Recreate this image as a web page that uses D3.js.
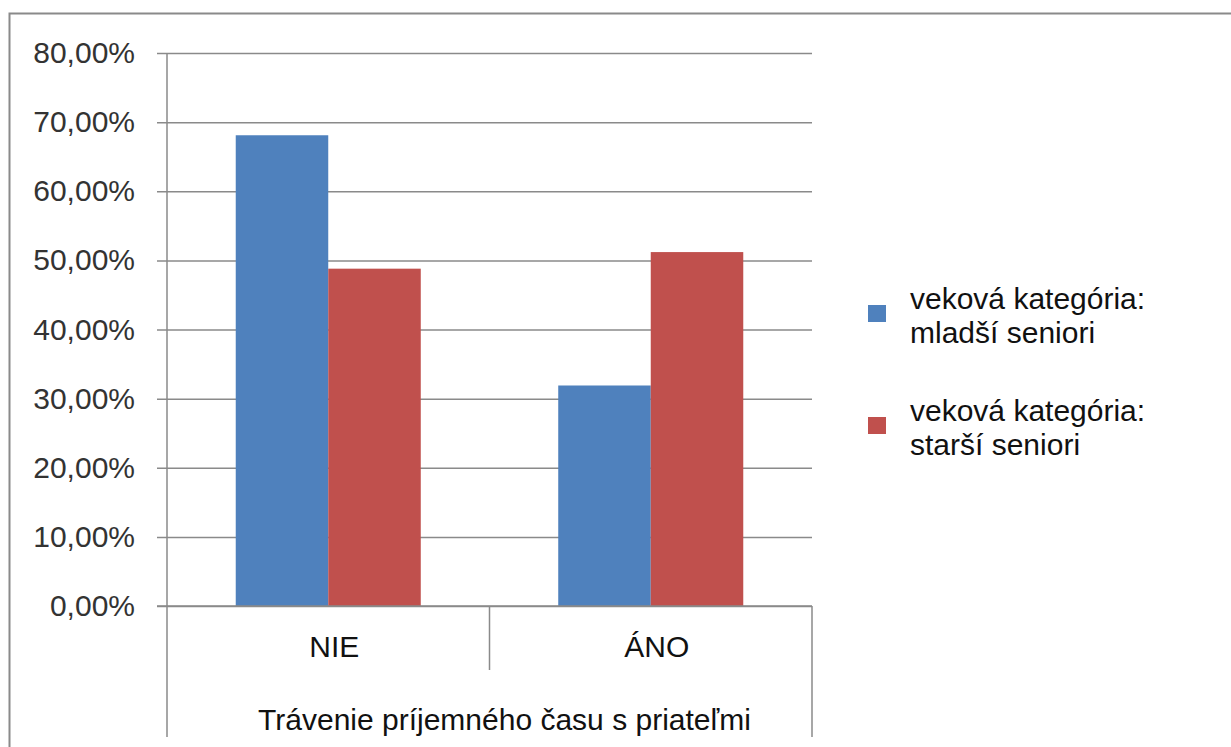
<!DOCTYPE html>
<html>
<head>
<meta charset="utf-8">
<script src="https://cdn.jsdelivr.net/npm/d3@7"></script>
<style>
  html, body { margin: 0; padding: 0; background: #ffffff; }
  svg { display: block; }
  text { font-family: "Liberation Sans", Arial, sans-serif; }
</style>
</head>
<body>
<svg id="chart" width="1231" height="747"></svg>
<script>
// ---- data ----
const categories = ["NIE", "ÁNO"];
const seriesNames = ["veková kategória: mladší seniori", "veková kategória: starší seniori"];
const legendLines = [["veková kategória:", "mladší seniori"], ["veková kategória:", "starší seniori"]];
const youngerSeniors = [68.1, 31.9];
const olderSeniors = [48.8, 51.2];
const yTicks = [0, 10, 20, 30, 40, 50, 60, 70, 80];
const axisTitle = "Trávenie príjemného času s priateľmi";
const seriesColors = ["#4F81BD", "#C0504D"];

const seriesValues = [youngerSeniors, olderSeniors];

// ---- layout ----
const svg = d3.select("#chart");
const plot = { left: 167, right: 812, top: 53, bottom: 606 };

// chart-area border
svg.append("rect")
  .attr("x", 9.5).attr("y", 13.5)
  .attr("width", 1240).attr("height", 760)
  .attr("fill", "none").attr("stroke", "#8a8a8a").attr("stroke-width", 2);

const y = d3.scaleLinear().domain([0, 80]).range([plot.bottom, plot.top]);
const x = d3.scaleBand().domain(categories).range([plot.left, plot.right]).paddingInner(0).paddingOuter(0);
const xSub = d3.scaleBand().domain(d3.range(seriesNames.length)).range([0, x.bandwidth()]).paddingInner(0).paddingOuter(0.743);

const locale = d3.formatLocale({ decimal: ",", thousands: " ", grouping: [3], currency: ["", ""] });
const pct = v => locale.format(".2f")(v) + "%";

// gridlines + y ticks via axis
const yAxis = d3.axisLeft(y).tickValues(yTicks).tickFormat(pct)
  .tickSize(-(plot.right - plot.left) - 10).tickPadding(22);
const gy = svg.append("g").attr("transform", `translate(${plot.left - 10},0)`).call(yAxis);
gy.select(".domain").remove();
gy.selectAll(".tick line")
  .attr("x1", 0).attr("x2", plot.right - plot.left + 10)
  .attr("stroke", "#8a8a8a").attr("stroke-width", 1.5);
gy.selectAll(".tick text")
  .attr("font-size", 30).attr("fill", "#333333")
  .attr("font-family", "'Liberation Sans', Arial, sans-serif");

// bars
categories.forEach((c, ci) => {
  seriesValues.forEach((vals, si) => {
    svg.append("rect")
      .attr("x", x(c) + xSub(si))
      .attr("y", y(vals[ci]))
      .attr("width", xSub.bandwidth())
      .attr("height", y(0) - y(vals[ci]))
      .attr("fill", seriesColors[si]);
  });
});

// baseline redraw on top
svg.append("line")
  .attr("x1", plot.left - 10).attr("x2", plot.right)
  .attr("y1", y(0)).attr("y2", y(0))
  .attr("stroke", "#8a8a8a").attr("stroke-width", 1.5);

// vertical axis line, extends through label area
const labelBottom = 737;
const innerTickBottom = 670;
svg.append("line")
  .attr("x1", plot.left).attr("x2", plot.left)
  .attr("y1", plot.top).attr("y2", labelBottom)
  .attr("stroke", "#8a8a8a").attr("stroke-width", 1.5);
// category separators
categories.slice(1).forEach(c => {
  svg.append("line")
    .attr("x1", x(c)).attr("x2", x(c))
    .attr("y1", plot.bottom).attr("y2", innerTickBottom)
    .attr("stroke", "#8a8a8a").attr("stroke-width", 1.5);
});
svg.append("line")
  .attr("x1", plot.right).attr("x2", plot.right)
  .attr("y1", plot.bottom).attr("y2", labelBottom)
  .attr("stroke", "#8a8a8a").attr("stroke-width", 1.5);

// category labels
svg.selectAll(".cat").data(categories).enter().append("text")
  .attr("class", "cat")
  .attr("x", d => x(d) + x.bandwidth() / 2 + 6)
  .attr("y", 657)
  .attr("text-anchor", "middle")
  .attr("font-size", 30).attr("fill", "#111111")
  .text(d => d);

// group title
svg.append("text")
  .attr("x", (plot.left + plot.right) / 2 + 15)
  .attr("y", 730)
  .attr("text-anchor", "middle")
  .attr("font-size", 30).attr("fill", "#111111")
  .text(axisTitle);

// legend
const legendTop = [309, 421];
legendLines.forEach((lines, i) => {
  svg.append("rect")
    .attr("x", 868).attr("y", legendTop[i] - 4)
    .attr("width", 18).attr("height", 17)
    .attr("fill", seriesColors[i]);
  lines.forEach((ln, li) => {
    svg.append("text")
      .attr("x", 910).attr("y", legendTop[i] + li * 34)
      .attr("font-size", 30).attr("fill", "#111111")
      .text(ln);
  });
});
</script>
</body>
</html>
